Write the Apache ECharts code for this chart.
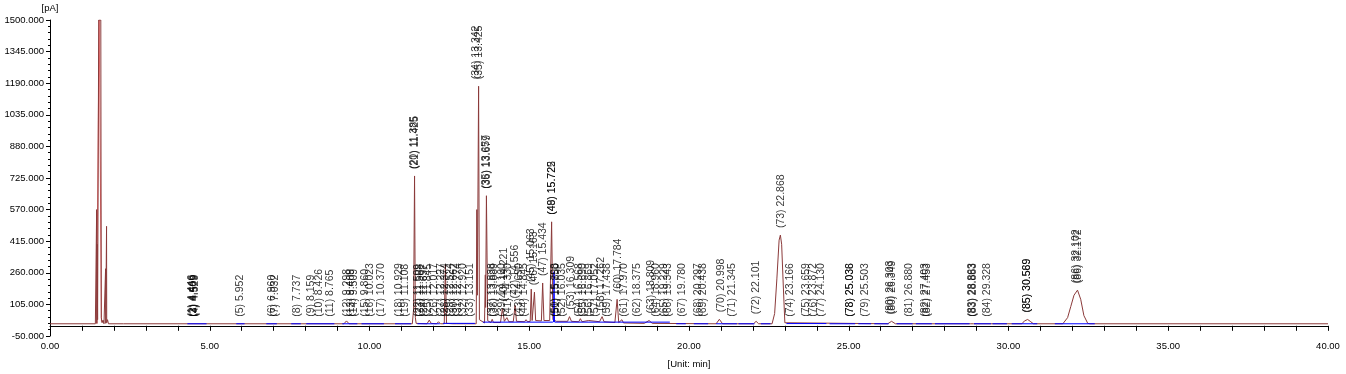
<!DOCTYPE html>
<html>
<head>
<meta charset="utf-8">
<script src="https://cdn.jsdelivr.net/npm/echarts@6/dist/echarts.min.js"></script>
<style>
html,body{margin:0;padding:0;background:#fff;}
#chart{width:1346px;height:374px;}
</style>
</head>
<body>
<div id="chart"></div>
<script>
// ---- Y axis tick labels (pA) ----
const yTicks = [-50, 105, 260, 415, 570, 725, 880, 1035, 1190, 1345, 1500];
// ---- X axis tick labels (min) ----
const xTicks = [0, 5, 10, 15, 20, 25, 30, 35, 40];

// ---- main (brown) signal trace: retention time (min) / signal (pA) ----
const traceTime = [
  0, 1.42, 1.455, 1.46, 1.465, 1.475, 1.49, 1.525, 1.59, 1.605, 1.63, 1.66, 1.69,
  1.735, 1.74, 1.745, 1.765, 1.77, 1.775, 1.80, 1.83, 2.30, 2.32, 2.34,
  9.20, 9.28, 9.36, 10.95, 11.00, 11.05,
  11.34, 11.38, 11.41, 11.435, 11.46, 11.80, 11.87, 11.93, 12.10, 12.16, 12.22,
  12.34, 12.375, 12.41, 12.60, 12.66, 12.72, 12.95, 13.00, 13.05,
  13.34, 13.36, 13.375, 13.415, 13.44, 13.60, 13.625, 13.635, 13.66, 13.70,
  13.80, 13.84, 13.88, 14.10, 14.16, 14.22, 14.30, 14.36, 14.50, 14.556, 14.60,
  14.85, 14.90, 14.95, 15.03, 15.063, 15.09, 15.163, 15.20, 15.38, 15.42, 15.46,
  15.64, 15.70, 15.74, 15.85, 16.20, 16.26, 16.32, 16.55, 16.60, 16.65, 16.86, 16.92,
  17.20, 17.28, 17.34, 17.68, 17.75, 17.80, 17.85, 17.90, 17.95, 18.60, 18.75, 18.85,
  20.85, 20.95, 21.05, 22.02, 22.10, 22.18,
  22.60, 22.68, 22.75, 22.82, 22.86, 22.90, 22.95, 23.00, 23.05,
  26.22, 26.34, 26.46, 28.82, 28.86, 28.90,
  30.42, 30.50, 30.60, 30.68, 30.78,
  31.70, 31.85, 31.95, 32.05, 32.16, 32.26, 32.36, 32.48, 32.55, 40
];
const traceSignal = [
  10, 10, 10, 570, 12, 400, 30, 1500, 1500, 40, 15, 28, 10,
  10, 280, 12, 12, 488, 15, 30, 10, 10, 16, 10,
  10, 24, 10, 10, 15, 10,
  10, 80, 735, 40, 12, 10, 28, 12, 10, 20, 10,
  10, 300, 12, 10, 17, 10, 10, 18, 10,
  10, 570, 150, 1175, 30, 14, 250, 90, 638, 25,
  16, 32, 16, 16, 85, 22, 40, 20, 20, 100, 22,
  20, 30, 20, 22, 180, 26, 165, 26, 24, 210, 26,
  26, 510, 30, 22, 22, 45, 22, 20, 35, 20, 26, 20,
  20, 45, 20, 16, 130, 16, 16, 30, 14, 12, 26, 12,
  10, 32, 10, 10, 22, 10,
  10, 60, 230, 420, 445, 400, 200, 15, 10,
  10, 22, 10, 10, 16, 10,
  10, 24, 31, 22, 10,
  10, 40, 95, 150, 175, 130, 50, 12, 10, 10
];

// ---- overlay (light red) trace on the solvent peak ----
const overlayTime = [1.47, 1.48, 1.54, 1.60, 1.61];
const overlaySignal = [10, 415, 1500, 1500, 20];

// ---- integration baseline (blue) segments: start, end, level ----
const baseStart = [4.30, 5.83, 6.77, 7.55, 8.02, 9.15, 9.75, 10.80, 11.50, 12.30, 13.55, 15.80, 19.60, 20.15, 20.85, 21.55, 22.25, 23.05, 24.40, 25.30, 25.80, 26.50, 27.10, 27.70, 28.92, 29.50, 30.10, 31.45];
const baseEnd   = [4.90, 6.09, 7.10, 7.85, 8.90, 9.62, 10.45, 11.30, 12.20, 13.30, 15.74, 19.40, 19.90, 20.60, 21.50, 22.05, 22.55, 24.30, 25.20, 25.70, 26.25, 27.00, 27.60, 28.78, 29.45, 29.95, 30.90, 32.70];
const baseLevel = [10, 10, 10, 10, 10, 10, 10, 10, 10, 12, 18, 18, 10, 10, 10, 10, 10, 11, 10, 10, 10, 10, 10, 10, 10, 10, 10, 10];
// blue spike
const blueSpikeTime = [15.76, 15.775, 15.79];
const blueSpikeSignal = [18, 265, 18];

// ---- peak annotations ----
const peakNo = [
  1, 2, 3, 4, 5, 6, 7, 8, 9, 10, 11, 12, 13, 14, 15, 16, 17, 18, 19, 20, 21,
  22, 23, 24, 25, 26, 27, 28, 29, 30, 31, 32, 33, 34, 35, 35, 36, 37, 38, 39, 40,
  41, 42, 43, 44, 45, 46, 47, 48, 49, 50, 51, 52, 53, 54, 55, 56, 57, 58, 59, 60,
  61, 62, 63, 64, 65, 66, 67, 68, 69, 70, 71, 72, 73, 74, 75, 76, 77, 78, 78, 79,
  80, 80, 81, 82, 82, 83, 83, 84, 85, 85, 86, 86
];
const peakRT = [
  4.446, 4.469, 4.509, 4.529, 5.952, 6.960, 7.032, 7.737, 8.159, 8.426, 8.765, 9.298, 9.409, 9.509, 9.860, 10.023, 10.370, 10.929, 11.108, 11.385, 11.425,
  11.509, 11.588, 11.697, 11.845, 12.017, 12.227, 12.374, 12.524, 12.662, 12.774, 12.920, 13.151, 13.342, 13.425, 13.657, 13.679, 13.838, 13.889, 14.160, 14.221,
  14.330, 14.556, 14.690, 14.845, 15.063, 15.163, 15.434, 15.725, 15.722, 15.798, 15.850, 16.035, 16.309, 16.568, 16.690, 16.869, 17.052, 17.262, 17.438, 17.784,
  17.970, 18.375, 18.809, 18.960, 19.229, 19.343, 19.780, 20.297, 20.438, 20.998, 21.345, 22.101, 22.868, 23.166, 23.659, 23.872, 24.130, 25.036, 25.038, 25.503,
  26.303, 26.349, 26.880, 27.403, 27.453, 28.863, 28.883, 29.328, 30.569, 30.589, 32.102, 32.172
];
const peakLabelY = [
  10, 10, 10, 10, 10, 10, 10, 10, 10, 10, 10, 10, 10, 10, 10, 10, 10, 10, 10, 735, 735,
  10, 10, 10, 10, 10, 10, 10, 10, 10, 10, 10, 10, 1175, 1175, 638, 638, 10, 10, 10, 85,
  10, 100, 10, 10, 180, 165, 210, 510, 510, 10, 10, 10, 45, 10, 10, 10, 10, 40, 10, 130,
  10, 10, 26, 10, 10, 10, 10, 10, 10, 32, 10, 22, 445, 10, 10, 10, 10, 10, 10, 10,
  22, 22, 10, 10, 10, 10, 10, 10, 31, 31, 175, 175
];

function pairs(t, v) { return t.map((x, i) => [x, v[i]]); }

const blueData = [];
for (let i = 0; i < baseStart.length; i++) {
  blueData.push([baseStart[i], baseLevel[i]]);
  blueData.push([baseEnd[i], baseLevel[i]]);
  blueData.push([baseEnd[i], null]);
}
const spikeData = pairs(blueSpikeTime, blueSpikeSignal);

const labelData = peakRT.map((t, i) => ({
  value: [t, peakLabelY[i]],
  name: '(' + peakNo[i] + ') ' + t.toFixed(3)
}));

// minor tick positions (layout only)
const yMinor = [];
for (let i = 0; i < yTicks.length - 1; i++) {
  const step = (yTicks[i + 1] - yTicks[i]) / 5;
  for (let k = 1; k < 5; k++) yMinor.push(yTicks[i] + k * step);
}

const FONT = '"Liberation Sans", Arial, sans-serif';
const chart = echarts.init(document.getElementById('chart'), null, { renderer: 'canvas' });
chart.setOption({
  animation: false,
  backgroundColor: '#ffffff',
  grid: { left: 50, right: 18, top: 20, bottom: 34 },
  xAxis: {
    type: 'value', min: 0, max: 40, interval: 5,
    name: '[Unit: min]', nameLocation: 'middle', nameGap: 23,
    nameTextStyle: { fontFamily: FONT, fontSize: 9.5, color: '#000' },
    axisLine: { lineStyle: { color: '#000', width: 1 } },
    axisTick: { length: 5, lineStyle: { color: '#000' } },
    minorTick: { show: true, splitNumber: 5, length: 5, lineStyle: { color: '#000' } },
    splitLine: { show: false },
    axisLabel: {
      margin: 5, fontFamily: FONT, fontSize: 9.5, color: '#000',
      customValues: xTicks,
      formatter: v => v.toFixed(2)
    }
  },
  yAxis: [{
    type: 'value', min: -50, max: 1500,
    name: '[pA]', nameLocation: 'end', nameGap: 7,
    nameTextStyle: { fontFamily: FONT, fontSize: 9.5, color: '#000', align: 'center' },
    axisLine: { show: true, lineStyle: { color: '#000', width: 1 } },
    axisTick: { show: true, length: 4, customValues: yTicks, lineStyle: { color: '#000' } },
    splitLine: { show: false },
    axisLabel: {
      margin: 6, fontFamily: FONT, fontSize: 9.5, color: '#000',
      customValues: yTicks,
      formatter: v => v.toFixed(3)
    }
  }, {
    type: 'value', min: -50, max: 1500, position: 'left', offset: 0,
    axisLine: { show: false },
    axisTick: { show: true, length: 2, customValues: yMinor, lineStyle: { color: '#000' } },
    axisLabel: { show: false },
    splitLine: { show: false }
  }],
  series: [{
    type: 'line', name: 'overlay', data: pairs(overlayTime, overlaySignal),
    symbol: 'none', lineStyle: { color: '#e06a6a', width: 1 }, z: 1
  }, {
    type: 'line', name: 'signal', data: pairs(traceTime, traceSignal),
    symbol: 'none', lineStyle: { color: '#8b3a3a', width: 1 }, z: 2
  }, {
    type: 'line', name: 'baseline', data: blueData, connectNulls: false,
    symbol: 'none', lineStyle: { color: '#0000ff', width: 1 }, z: 3
  }, {
    type: 'line', name: 'blueSpike', data: spikeData,
    symbol: 'none', lineStyle: { color: '#0000ff', width: 1 }, z: 3
  }, {
    type: 'scatter', name: 'peaks', data: labelData,
    symbolSize: 0, silent: true, z: 4,
    label: {
      show: true, position: 'top', distance: 7, rotate: 90,
      align: 'left', verticalAlign: 'middle',
      fontFamily: FONT, fontSize: 10.5, color: '#000',
      formatter: p => p.name
    }
  }]
});
</script>
</body>
</html>
